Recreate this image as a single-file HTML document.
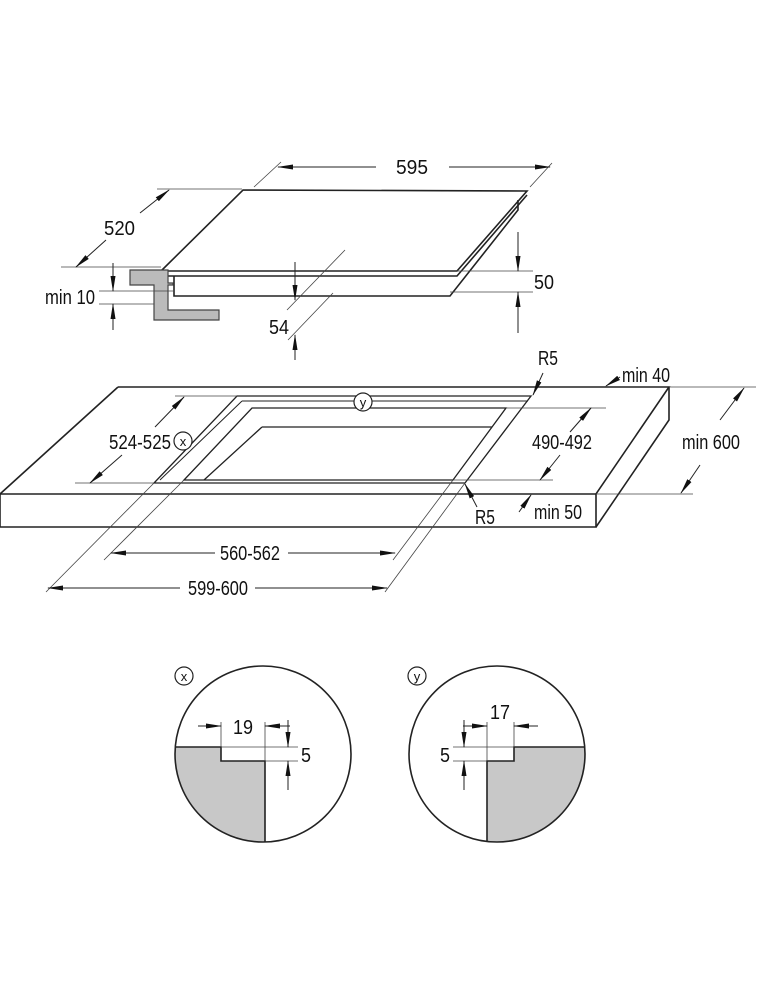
<!DOCTYPE html>
<html><head><meta charset="utf-8"><style>
html,body{margin:0;padding:0;background:#fff}
svg{display:block}
text{font-family:"Liberation Sans Narrow","Liberation Sans",sans-serif;font-size:20px;fill:#111}
</style></head><body>
<svg width="760" height="1000" viewBox="0 0 760 1000" xmlns="http://www.w3.org/2000/svg">
<defs>
<marker id="a" markerWidth="16" markerHeight="6" refX="15" refY="3" orient="auto" markerUnits="userSpaceOnUse">
<path d="M0,0.5 L16,3 L0,5.5 Z" fill="#111"/></marker>
</defs>
<g stroke="#222" stroke-width="1.6" fill="none">
<path d="M243,190 L527,191 L457,271 L161,271 Z" fill="#fff"/>
<path d="M161,271 L161,276 L457,276 L527,195"/>
<path d="M174,276 L174,296 L450,296 L518,210 L518,200"/>
</g>
<path d="M130,270 H168 V283 H173 V285 H168 V310 H219 V320 H154 V285 H130 Z" fill="#bbb" stroke="#444" stroke-width="1.2"/>
<g stroke="#444" stroke-width="0.8" fill="none">
<line x1="254" y1="187" x2="281" y2="162"/><line x1="530" y1="187" x2="552" y2="163"/>
<line x1="157" y1="189" x2="242" y2="189"/><line x1="61" y1="267" x2="161" y2="267"/>
<line x1="99" y1="291" x2="174" y2="291"/><line x1="99" y1="304" x2="154" y2="304"/>
<line x1="457" y1="271" x2="533" y2="271"/><line x1="450" y1="292" x2="533" y2="292"/>
<line x1="345" y1="250" x2="287" y2="310"/><line x1="333" y1="293" x2="288" y2="340"/>
</g>
<g stroke="#222" stroke-width="1" fill="none" marker-end="url(#a)">
<line x1="376" y1="167" x2="278" y2="167"/><line x1="449" y1="167" x2="550" y2="167"/>
<line x1="140" y1="213" x2="169" y2="190"/><line x1="106" y1="240" x2="76" y2="267"/>
<line x1="113" y1="263" x2="113" y2="291"/><line x1="113" y1="330" x2="113" y2="304"/>
<line x1="518" y1="232" x2="518" y2="271"/><line x1="518" y1="333" x2="518" y2="292"/>
<line x1="295" y1="262" x2="295" y2="300"/><line x1="295" y1="360" x2="295" y2="335"/>
</g>
<text x="396" y="174" textLength="32" lengthAdjust="spacingAndGlyphs">595</text>
<text x="104" y="235" textLength="31" lengthAdjust="spacingAndGlyphs">520</text>
<text x="45" y="304" textLength="50" lengthAdjust="spacingAndGlyphs">min 10</text>
<text x="534" y="289" textLength="20" lengthAdjust="spacingAndGlyphs">50</text>
<text x="269" y="334" textLength="20" lengthAdjust="spacingAndGlyphs">54</text>

<g stroke="#222" stroke-width="1.6" fill="none">
<path d="M118,387 L669,387 L596,494 L0,494"/>
<path d="M0,494 L0,527 L596,527 L596,494"/>
<path d="M669,387 L669,420 L596,527"/>
<path d="M0,494 L118,387"/>
<path d="M237,396 L531,396 L465,483 L154,483 Z" stroke-width="1.3"/>
<path d="M242,401 L528,401 M242,401 L160,480" stroke-width="1"/>
<path d="M252,408 L506,408 L453,480 L184,480 Z" stroke-width="1.3"/>
<path d="M262,427 L492,427 M262,427 L204,480" stroke-width="1.3"/>
</g>
<g stroke="#444" stroke-width="0.8" fill="none">
<line x1="175" y1="396" x2="237" y2="396"/><line x1="75" y1="483" x2="154" y2="483"/>
<line x1="506" y1="408" x2="606" y2="408"/><line x1="453" y1="480" x2="553" y2="480"/>
<line x1="669" y1="387" x2="756" y2="387"/><line x1="596" y1="494" x2="693" y2="494"/>
<line x1="184" y1="480" x2="104" y2="560"/><line x1="154" y1="483" x2="46" y2="592"/>
<line x1="453" y1="480" x2="393" y2="560"/><line x1="465" y1="483" x2="385" y2="592"/>
</g>
<g stroke="#222" stroke-width="1" fill="none" marker-end="url(#a)">
<line x1="155" y1="427" x2="184" y2="397"/><line x1="122" y1="455" x2="90" y2="483"/>
<line x1="570" y1="432" x2="591" y2="408"/><line x1="560" y1="455" x2="540" y2="480"/>
<line x1="720" y1="420" x2="744" y2="388"/><line x1="700" y1="465" x2="681" y2="493"/>
<line x1="620" y1="377" x2="606" y2="386"/>
<line x1="543" y1="373" x2="533" y2="395"/>
<line x1="477" y1="507" x2="465" y2="484"/>
<line x1="519" y1="512" x2="531" y2="495"/>
<line x1="215" y1="553" x2="111" y2="553"/><line x1="288" y1="553" x2="395" y2="553"/>
<line x1="180" y1="588" x2="48" y2="588"/><line x1="255" y1="588" x2="387" y2="588"/>
</g>
<g fill="#fff" stroke="#222" stroke-width="1.2">
<circle cx="363" cy="402" r="9"/><circle cx="183" cy="441" r="9"/>
</g>
<text x="363" y="407" text-anchor="middle" style="font-size:13px">y</text>
<text x="183" y="446" text-anchor="middle" style="font-size:13px">x</text>
<text x="109" y="449" textLength="62" lengthAdjust="spacingAndGlyphs">524-525</text>
<text x="532" y="449" textLength="60" lengthAdjust="spacingAndGlyphs">490-492</text>
<text x="682" y="449" textLength="58" lengthAdjust="spacingAndGlyphs">min 600</text>
<text x="538" y="365" textLength="20" lengthAdjust="spacingAndGlyphs">R5</text>
<text x="622" y="382" textLength="48" lengthAdjust="spacingAndGlyphs">min 40</text>
<text x="475" y="524" textLength="20" lengthAdjust="spacingAndGlyphs">R5</text>
<text x="534" y="519" textLength="48" lengthAdjust="spacingAndGlyphs">min 50</text>
<text x="220" y="560" textLength="60" lengthAdjust="spacingAndGlyphs">560-562</text>
<text x="188" y="595" textLength="60" lengthAdjust="spacingAndGlyphs">599-600</text>

<defs>
<clipPath id="cx"><circle cx="263" cy="754" r="88"/></clipPath>
<clipPath id="cy"><circle cx="497" cy="754" r="88"/></clipPath>
</defs>
<path clip-path="url(#cx)" d="M170,747 H221 V761 H265 V850 H170 Z" fill="#c8c8c8" stroke="#222" stroke-width="1.6"/>
<path clip-path="url(#cy)" d="M590,747 H514 V761 H487 V850 H590 Z" fill="#c8c8c8" stroke="#222" stroke-width="1.6"/>
<circle cx="263" cy="754" r="88" fill="none" stroke="#222" stroke-width="1.6"/>
<circle cx="497" cy="754" r="88" fill="none" stroke="#222" stroke-width="1.6"/>
<g stroke="#444" stroke-width="0.8" fill="none">
<line x1="221" y1="722" x2="221" y2="747"/><line x1="265" y1="722" x2="265" y2="761"/>
<line x1="221" y1="747" x2="298" y2="747"/><line x1="265" y1="761" x2="298" y2="761"/>
<line x1="487" y1="722" x2="487" y2="761"/><line x1="514" y1="722" x2="514" y2="747"/>
<line x1="453" y1="747" x2="514" y2="747"/><line x1="453" y1="761" x2="487" y2="761"/>
</g>
<g stroke="#222" stroke-width="1" fill="none" marker-end="url(#a)">
<line x1="198" y1="726" x2="221" y2="726"/><line x1="290" y1="726" x2="265" y2="726"/>
<line x1="288" y1="720" x2="288" y2="747"/><line x1="288" y1="790" x2="288" y2="761"/>
<line x1="463" y1="726" x2="487" y2="726"/><line x1="538" y1="726" x2="514" y2="726"/>
<line x1="464" y1="720" x2="464" y2="747"/><line x1="464" y1="790" x2="464" y2="761"/>
</g>
<g fill="#fff" stroke="#222" stroke-width="1.2">
<circle cx="184" cy="676" r="9"/><circle cx="417" cy="676" r="9"/>
</g>
<text x="184" y="681" text-anchor="middle" style="font-size:13px">x</text>
<text x="417" y="681" text-anchor="middle" style="font-size:13px">y</text>
<text x="233" y="734" textLength="20" lengthAdjust="spacingAndGlyphs">19</text>
<text x="301" y="762" textLength="10" lengthAdjust="spacingAndGlyphs">5</text>
<text x="490" y="719" textLength="20" lengthAdjust="spacingAndGlyphs">17</text>
<text x="440" y="762" textLength="10" lengthAdjust="spacingAndGlyphs">5</text>
</svg>
</body></html>
